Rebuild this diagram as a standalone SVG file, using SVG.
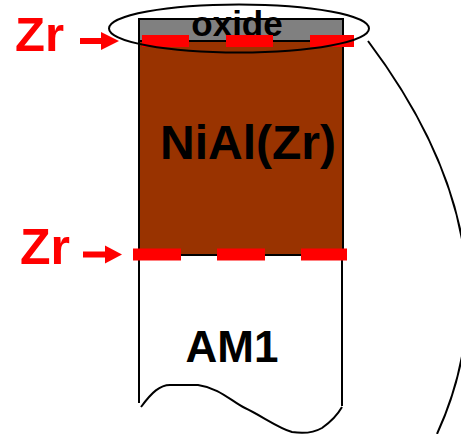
<svg xmlns="http://www.w3.org/2000/svg" width="461" height="434" viewBox="0 0 461 434">
<style>
.lbl{font-family:"Liberation Sans",Arial,sans-serif;font-weight:bold}
.red{fill:#ff0000}
.dash{fill:#ff0000}
.ln{fill:none;stroke:#000;stroke-width:2}
</style>
<rect width="461" height="434" fill="#fff"/>
<g id="am1">
<path d="M139,255 V403 M342,255 V406" class="ln"/>
<path d="M141,407 C152,392 160,385 170,385 L198,385 C220,388 232,402 245,408 C262,416 278,428 292,432 C305,434 315,432 322,428 C332,421 338,414 342,407" class="ln"/>
<text class="lbl" x="232" y="361.5" font-size="44" text-anchor="middle">AM1</text>
</g>
<g id="niAl">
<rect x="139" y="41" width="204" height="214" fill="#993300" stroke="#000" stroke-width="2"/>
<text class="lbl" x="248" y="159" font-size="48" text-anchor="middle">NiAl(Zr)</text>
</g>
<g id="oxide">
<rect x="139" y="19" width="204" height="22" fill="#808080" stroke="#000" stroke-width="2"/>
<text class="lbl" x="237" y="36" font-size="35" text-anchor="middle">oxide</text>
</g>
<g id="zr-top">
<rect class="dash" x="142" y="35" width="47" height="12"/>
<rect class="dash" x="226" y="35" width="47" height="12"/>
<rect class="dash" x="310" y="35" width="44" height="12"/>
<text class="lbl red" x="15" y="51" font-size="49">Zr</text>
<rect class="red" x="80" y="38" width="22" height="6"/>
<polygon class="red" points="101,32 119,41 101,50"/>
</g>
<g id="zr-bottom">
<rect class="dash" x="133" y="248.5" width="48" height="12"/>
<rect class="dash" x="217" y="248.5" width="48" height="12"/>
<rect class="dash" x="301" y="248.5" width="46" height="12"/>
<text class="lbl red" x="20" y="264" font-size="50">Zr</text>
<rect class="red" x="83" y="251.5" width="24" height="6"/>
<polygon class="red" points="105,245.5 122,254.5 105,263.5"/>
</g>
<g id="connectors">
<ellipse cx="239" cy="28.5" rx="130" ry="24" class="ln"/>
<path d="M368,41 C450,150 505,285 437,434" class="ln"/>
</g>
</svg>
